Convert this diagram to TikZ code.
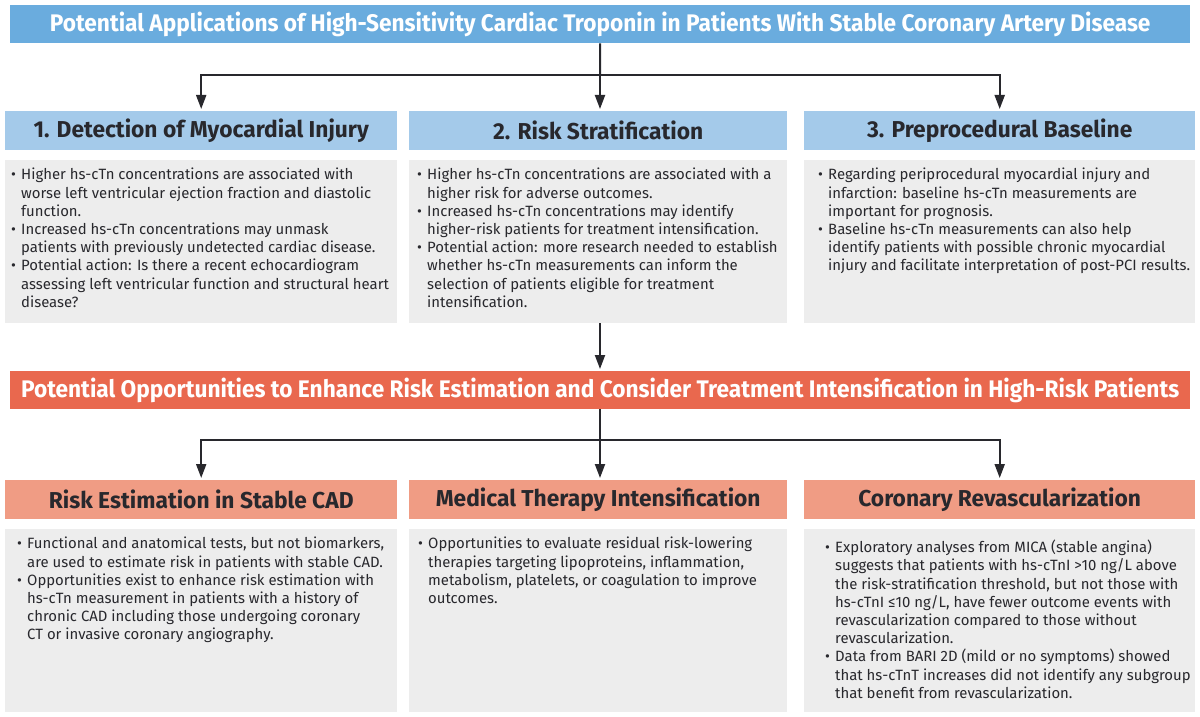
\documentclass[tikz,border=0pt]{standalone}
\usepackage{fontspec}
\setmainfont{Fira Sans}
\newfontfamily\headfont[FakeStretch=0.99]{Fira Sans Bold}
\newfontfamily\titlefont[FakeStretch=0.945]{Fira Sans Bold}
\usetikzlibrary{arrows.meta}
\definecolor{titleblue}{RGB}{106,172,222}
\definecolor{headblue}{RGB}{164,202,234}
\definecolor{bodygray}{RGB}{237,237,237}
\definecolor{barorange}{RGB}{233,104,78}
\definecolor{headsalmon}{RGB}{240,156,132}
\definecolor{ink}{RGB}{40,40,45}
\newcommand{\bulit}{\makebox[10pt][l]{•}}
\newcommand{\indt}{\hspace*{10pt}}
\tikzset{
  bar/.style={anchor=north west, inner sep=0, minimum height=38pt, minimum width=1180pt, text=white, font=\titlefont\fontsize{24}{28}\selectfont},
  headbox/.style={anchor=north west, inner sep=0, minimum height=39pt, text=ink, font=\headfont\fontsize{23}{27}\selectfont},
  bodybox/.style={anchor=north west, inner sep=0, fill=bodygray},
  bodytext/.style={anchor=north west, inner sep=0, align=left, text=ink, font=\fontsize{14.9}{18.2}\selectfont},
  conn/.style={draw=ink, line width=2pt},
  arr/.style={conn, -{Triangle[width=10pt,length=14pt]}, shorten >=2pt},
}
\begin{document}
\begin{tikzpicture}[x=1pt,y=-1pt]
\useasboundingbox (0,0) rectangle (1200,717);
% top title
\node[bar, fill=titleblue] (t) at (10,5) {Potential Applications of High-Sensitivity Cardiac Troponin in Patients With Stable Coronary Artery Disease};
% row 1 headers
\node[headbox, fill=headblue, minimum width=392pt] (h1) at (5,111) {1. Detection of Myocardial Injury};
\node[headbox, fill=headblue, minimum width=378pt] (h2) at (409,111) {2. Risk Stratification};
\node[headbox, fill=headblue, minimum width=391pt] (h3) at (804,111) {3. Preprocedural Baseline};
% row 1 bodies
\node[bodybox, minimum width=392pt, minimum height=163pt] (b1) at (5,160) {};
\node[bodybox, minimum width=378pt, minimum height=163pt] (b2) at (409,160) {};
\node[bodybox, minimum width=391pt, minimum height=163pt] (b3) at (804,160) {};
\node[bodytext] (t1) at (11,168) {\bulit Higher hs-cTn concentrations are associated with\\
\indt worse left ventricular ejection fraction and diastolic\\
\indt function.\\
\bulit Increased hs-cTn concentrations may unmask\\
\indt patients with previously undetected cardiac disease.\\
\bulit Potential action: Is there a recent echocardiogram\\
\indt assessing left ventricular function and structural heart\\
\indt disease?};
\node[bodytext] (t2) at (417,168) {\bulit Higher hs-cTn concentrations are associated with a\\
\indt higher risk for adverse outcomes.\\
\bulit Increased hs-cTn concentrations may identify\\
\indt higher-risk patients for treatment intensification.\\
\bulit Potential action: more research needed to establish\\
\indt whether hs-cTn measurements can inform the\\
\indt selection of patients eligible for treatment\\
\indt intensification.};
\node[bodytext] (t3) at (818,168) {\bulit Regarding periprocedural myocardial injury and\\
\indt infarction: baseline hs-cTn measurements are\\
\indt important for prognosis.\\
\bulit Baseline hs-cTn measurements can also help\\
\indt identify patients with possible chronic myocardial\\
\indt injury and facilitate interpretation of post-PCI results.};
% orange bar
\node[bar, fill=barorange] (ob) at (10,371) {Potential Opportunities to Enhance Risk Estimation and Consider Treatment Intensification in High-Risk Patients};
% row 2 headers
\node[headbox, fill=headsalmon, minimum width=392pt] (g1) at (5,480) {Risk Estimation in Stable CAD};
\node[headbox, fill=headsalmon, minimum width=378pt] (g2) at (409,480) {Medical Therapy Intensification};
\node[headbox, fill=headsalmon, minimum width=391pt] (g3) at (804,480) {Coronary Revascularization};
% row 2 bodies
\node[bodybox, minimum width=392pt, minimum height=183pt] (c1) at (5,529) {};
\node[bodybox, minimum width=378pt, minimum height=183pt] (c2) at (409,529) {};
\node[bodybox, minimum width=391pt, minimum height=183pt] (c3) at (804,529) {};
\node[bodytext] (u1) at (17,537) {\bulit Functional and anatomical tests, but not biomarkers,\\
\indt are used to estimate risk in patients with stable CAD.\\
\bulit Opportunities exist to enhance risk estimation with\\
\indt hs-cTn measurement in patients with a history of\\
\indt chronic CAD including those undergoing coronary\\
\indt CT or invasive coronary angiography.};
\node[bodytext] (u2) at (418,537) {\bulit Opportunities to evaluate residual risk-lowering\\
\indt therapies targeting lipoproteins, inflammation,\\
\indt metabolism, platelets, or coagulation to improve\\
\indt outcomes.};
\node[bodytext] (u3) at (825,540) {\bulit Exploratory analyses from MICA (stable angina)\\
\indt suggests that patients with hs-cTnI >10 ng/L above\\
\indt the risk-stratification threshold, but not those with\\
\indt hs-cTnI ≤10 ng/L, have fewer outcome events with\\
\indt revascularization compared to those without\\
\indt revascularization.\\
\bulit Data from BARI 2D (mild or no symptoms) showed\\
\indt that hs-cTnT increases did not identify any subgroup\\
\indt that benefit from revascularization.};
% connectors
\coordinate (j1) at (600,75);
\draw[conn] (t.south) -- (j1);
\draw[arr] (j1) -| (h1.north);
\draw[arr] (j1) -- (h2.north -| j1);
\draw[arr] (j1) -| (h3.north);
\draw[arr] (b2.south -| j1) -- (ob.north -| j1);
\coordinate (j2) at (600,440);
\draw[conn] (ob.south -| j2) -- (j2);
\draw[arr] (j2) -| (g1.north);
\draw[arr] (j2) -- (g2.north -| j2);
\draw[arr] (j2) -| (g3.north);
\end{tikzpicture}
\end{document}
